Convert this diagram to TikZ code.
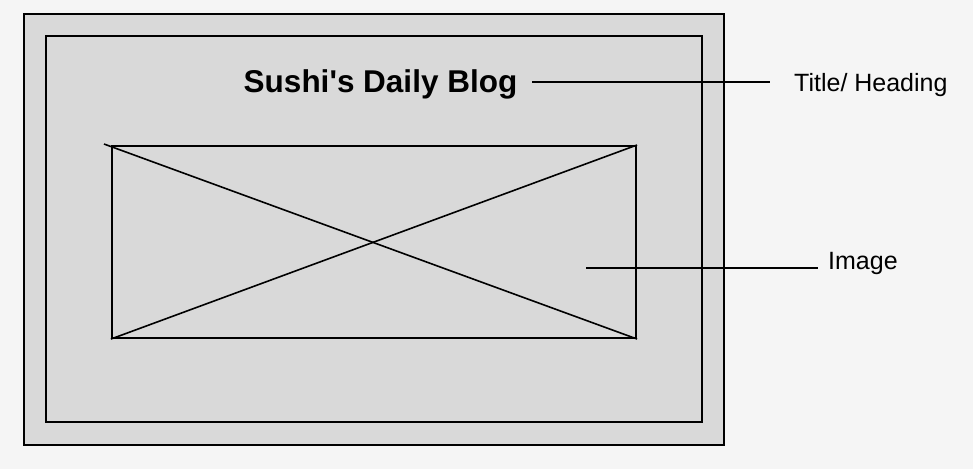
\documentclass[tikz,border=0pt]{standalone}
\usepackage{fontspec}
\setmainfont{Liberation Sans}[Ligatures=TeXOff]
\definecolor{bg}{HTML}{F5F5F5}
\definecolor{panel}{HTML}{D9D9D9}
\begin{document}
\begin{tikzpicture}[x=1pt,y=-1pt,
  box/.style={draw=black,line width=2pt,fill=panel,inner sep=0pt},
  wire/.style={draw=black,line width=1.6pt},
  label/.style={inner sep=0pt,anchor=base west,font=\fontsize{25}{29}\selectfont}]
\path[fill=bg] (0,0) rectangle (973,469);
\useasboundingbox (0,0) rectangle (973,469);
\node[box,minimum width=700pt,minimum height=431pt] (outer) at (374,229.5) {};
\node[box,minimum width=656pt,minimum height=386pt] (inner) at (374,229) {};
\node[box,minimum width=524pt,minimum height=192pt] (img) at (374,242) {};
\coordinate (xs) at (104,144);
\draw[wire] (xs) -- (img.south east);
\draw[wire] (img.south west) -- (img.north east);
\node[inner sep=0pt,anchor=base,font=\bfseries\fontsize{31.5}{36}\selectfont] (title) at (380.5,92) {Sushi's Daily Blog};
\node[label] (tl) at (794,91) {Title/ Heading};
\node[label] (il) at (828,269) {Image};
\coordinate (ts) at (532,82);
\coordinate (te) at (770,82);
\draw[wire] (ts) -- (te);
\coordinate (is) at (586,268);
\coordinate (ie) at (818,268);
\draw[wire] (is) -- (ie);
\end{tikzpicture}
\end{document}
